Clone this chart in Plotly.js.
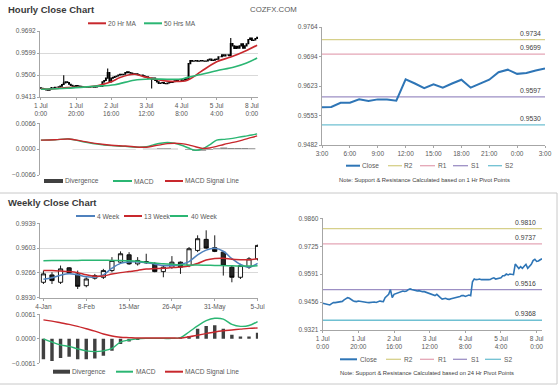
<!DOCTYPE html>
<html><head><meta charset="utf-8">
<script src="https://cdn.plot.ly/plotly-3.0.1.min.js"></script>
<style>html,body{margin:0;padding:0;background:#fff}#chart{width:560px;height:386px}</style>
</head><body><div id="chart"></div>
<script>
// ================= DATA =================
// Hourly (1 Jul 0:00 .. 8 Jul 3:00, weekend skipped)
const hourlyTickIdx = [0, 20, 40, 60, 80, 100, 120];
const hourlyTickLabels = ['1 Jul<br>0:00','1 Jul<br>20:00','2 Jul<br>16:00','3 Jul<br>12:00','4 Jul<br>8:00','5 Jul<br>4:00','8 Jul<br>0:00'];
const hourlyClose = [
 0.9450,0.9448,0.9445,0.9443,0.9442,0.9448,0.9453,0.9453,0.9454,0.9454,
 0.9456,0.9459,0.9466,0.9472,0.9477,0.9474,0.9467,0.9462,0.9459,0.9458,
 0.9461,0.9459,0.9458,0.9456,0.9454,0.9454,0.9453,0.9454,0.9456,0.9456,
 0.9454,0.9456,0.9461,0.9459,0.9458,0.9477,0.9483,0.9493,0.9516,0.9477,
 0.9493,0.9496,0.9499,0.9502,0.9506,0.9509,0.9507,0.9509,0.9516,0.9519,
 0.9516,0.9514,0.9511,0.9509,0.9511,0.9507,0.9506,0.9506,0.9503,0.9499,
 0.9498,0.9493,0.9493,0.9487,0.9493,0.9483,0.9477,0.9470,0.9472,0.9474,
 0.9470,0.9469,0.9472,0.9474,0.9475,0.9478,0.9482,0.9483,0.9487,0.9487,
 0.9483,0.9485,0.9490,0.9487,0.9554,0.9567,0.9564,0.9565,0.9567,0.9564,
 0.9565,0.9567,0.9565,0.9564,0.9565,0.9570,0.9573,0.9567,0.9569,
 0.9572,0.9573,0.9583,0.9583,0.9591,0.9587,0.9591,0.9591,0.9588,0.9639,
 0.9629,0.9618,0.9627,0.9619,0.9629,0.9638,0.9619,0.9629,0.9638,0.9656,
 0.9662,0.9652,0.9654,0.9660,0.9665];
const hourlyFirstOpen = 0.9452;
const hourlySpikeIdx  = [13, 38, 63, 108];
const hourlySpikeHigh = [0.9505, 0.9533, null, 0.9662];
const hourlySpikeLow  = [null, null, 0.9449, 0.9588];
const hourlyYTicks = [0.9413, 0.9506, 0.9599, 0.9692];

const ma20Idx = [0,6,15,25,32,40,45,53,59,66,72,78,82,85,91,100,108,117,123];
const ma20Val = [0.9448,0.9447,0.9453,0.9455,0.9460,0.9477,0.9495,0.9509,0.9498,0.9487,0.9480,0.9479,0.9481,0.9490,0.9520,0.9562,0.9582,0.9610,0.9632];
const ma50Idx = [0,15,30,42,53,62,72,80,83,91,100,110,117,123];
const ma50Val = [0.9446,0.9450,0.9458,0.9465,0.9484,0.9489,0.9488,0.9489,0.9495,0.9508,0.9524,0.9540,0.9557,0.9578];

const hourlyMacdIdx = [0,8,16,24,32,40,48,56,60,64,68,72,76,80,84,88,92,96,100,104,108,112,116,120,123];
const hourlyMacd   = [0.0023,0.0024,0.0026,0.0019,0.0013,0.0009,0.0007,0.0005,0.0006,0.0011,0.0015,0.0017,0.0015,0.0010,0.0003,-0.0003,0.0001,0.0011,0.0023,0.0025,0.0027,0.0030,0.0033,0.0036,0.0039];
const hourlySignal = [0.0023,0.0024,0.0026,0.0020,0.0014,0.0010,0.0008,0.0005,0.0005,0.0008,0.0011,0.0014,0.0015,0.0014,0.0011,0.0006,0.0002,0.0003,0.0007,0.0012,0.0016,0.0020,0.0025,0.0030,0.0034];
const hourlyDivStep = 4;
const hourlyDivergence = [0.0000,0.0000,0.0000,0.0000,0.0000,-0.0001,-0.0001,-0.0001,-0.0001,-0.0001,-0.0001,-0.0001,-0.0001,-0.0001,0.0000,0.0001,0.0001,0.0002,0.0002,0.0001,0.0000,-0.0002,-0.0004,-0.0004,-0.0002,0.0002,0.0004,0.0003,0.0003,0.0003,0.0002];
const hourlyMacdTicks = [-0.0066, 0, 0.0066];

// Last 24 hours (top right)
const lastDayStart = 99;
const lastDayTickLabels = ['3:00','6:00','9:00','12:00','15:00','18:00','21:00','0:00','3:00'];
const lastDayYTicks = [0.9482, 0.9553, 0.9623, 0.9694, 0.9764];
const pivotNames = ['R2','R1','S1','S2'];
const hourPivots = [0.9734, 0.9699, 0.9597, 0.9530];
const dayPivots  = [0.9810, 0.9737, 0.9516, 0.9368];
const dayYTicks  = [0.9321, 0.9456, 0.9591, 0.9725, 0.9860];

// Weekly
const weekTickLabels = ['4-Jan','8-Feb','15-Mar','26-Apr','31-May','5-Jul'];
const weeklyOpen  = [0.9139,0.9239,0.9139,0.9335,0.9253,0.9093,0.9194,0.9207,0.9298,0.9412,0.9512,0.9389,0.9403,0.9389,0.9284,0.9344,0.9412,0.9366,0.9571,0.9721,0.9608,0.9548,0.9344,0.9207,0.9344,0.9457];
const weeklyHigh  = [0.9298,0.9275,0.9366,0.9344,0.9298,0.9207,0.9253,0.9321,0.9480,0.9558,0.9548,0.9480,0.9526,0.9412,0.9366,0.9494,0.9421,0.9617,0.9776,0.9844,0.9776,0.9558,0.9366,0.9389,0.9480,0.9649];
const weeklyLow   = [0.9116,0.9116,0.9116,0.9253,0.9048,0.9071,0.9175,0.9184,0.9275,0.9389,0.9376,0.9366,0.9389,0.9275,0.9207,0.9321,0.9253,0.9344,0.9548,0.9594,0.9548,0.9230,0.9139,0.9184,0.9321,0.9435];
const weeklyClose = [0.9253,0.9162,0.9321,0.9266,0.9084,0.9184,0.9230,0.9298,0.9435,0.9526,0.9389,0.9435,0.9421,0.9284,0.9344,0.9412,0.9344,0.9594,0.9730,0.9603,0.9558,0.9366,0.9207,0.9366,0.9457,0.9639];
const ma4w  = [0.9180,0.9200,0.9235,0.9255,0.9240,0.9215,0.9210,0.9240,0.9330,0.9395,0.9415,0.9415,0.9405,0.9385,0.9365,0.9365,0.9380,0.9420,0.9510,0.9575,0.9600,0.9560,0.9460,0.9380,0.9345,0.9395];
const ma13w = [0.9300,0.9298,0.9292,0.9285,0.9270,0.9240,0.9222,0.9225,0.9250,0.9270,0.9285,0.9300,0.9318,0.9325,0.9330,0.9338,0.9345,0.9360,0.9395,0.9440,0.9460,0.9465,0.9450,0.9445,0.9445,0.9458];
const ma40w = [0.9432,0.9433,0.9434,0.9435,0.9436,0.9437,0.9437,0.9437,0.9436,0.9434,0.9430,0.9423,0.9412,0.9400,0.9390,0.9382,0.9376,0.9372,0.9372,0.9370,0.9368,0.9366,0.9362,0.9360,0.9360,0.9362];
const weeklyYTicks = [0.8930, 0.9266, 0.9603, 0.9939];
const weeklyDivergence = [-0.0051,-0.0055,-0.0048,-0.0045,-0.0051,-0.0051,-0.0049,-0.0042,-0.0030,-0.0013,-0.0007,-0.0003,0.0001,0.0002,0.0002,0.0002,0.0003,0.0007,0.0025,0.0032,0.0034,0.0025,0.0010,0.0006,0.0006,0.0015];
const weeklyMacd   = [0.0000,-0.0008,-0.0015,-0.0019,-0.0025,-0.0030,-0.0032,-0.0030,-0.0024,-0.0008,-0.0003,0.0000,0.0001,0.0001,0.0001,0.0001,0.0003,0.0017,0.0032,0.0045,0.0051,0.0049,0.0036,0.0031,0.0033,0.0043];
const weeklySignal = [0.0047,0.0044,0.0040,0.0036,0.0031,0.0025,0.0019,0.0012,0.0007,0.0004,0.0003,0.0002,0.0002,0.0002,0.0002,0.0002,0.0002,0.0005,0.0009,0.0013,0.0017,0.0020,0.0022,0.0024,0.0026,0.0027];
const weeklyMacdTicks = [-0.0061, 0, 0.0061];

// ================= BUILD =================
const FONT = 'Liberation Sans, Arial, sans-serif';
const C = {red:'#c8282d', green:'#2bb673', blue:'#4f81bd', close:'#2e75b6', div:'#595959',
           R2:'#d6d08a', R1:'#e4a6b6', S1:'#9c8fc4', S2:'#6fc0d2', axis:'#a6a6a6', grid:'#d9d9d9', text:'#595959'};
const W = 560, H = 386;
const px = x => x / W, py = y => 1 - y / H;

const hIdx = hourlyClose.map((_, i) => i);
const hOpen = [hourlyFirstOpen].concat(hourlyClose.slice(0, -1));
const hHigh = hourlyClose.map((c, i) => Math.max(c, hOpen[i]));
const hLow  = hourlyClose.map((c, i) => Math.min(c, hOpen[i]));
hourlySpikeIdx.forEach((k, j) => {
  if (hourlySpikeHigh[j] != null) hHigh[k] = Math.max(hHigh[k], hourlySpikeHigh[j]);
  if (hourlySpikeLow[j] != null) hLow[k] = Math.min(hLow[k], hourlySpikeLow[j]);
});
const lastDayClose = hourlyClose.slice(lastDayStart);
const ldIdx = lastDayClose.map((_, i) => i);
const ldTickVals = lastDayTickLabels.map((_, i) => i * 3);
const wIdx = weeklyClose.map((_, i) => i);
const wTickVals = weekTickLabels.map((_, i) => i * 5);
const hDivIdx = hourlyDivergence.map((_, i) => i * hourlyDivStep);

function candleStyle(lw) {
  return {
    increasing: {line: {color: '#000', width: lw}, fillcolor: '#ffffff'},
    decreasing: {line: {color: '#000', width: lw}, fillcolor: '#262626'},
    whiskerwidth: 0, showlegend: false, hoverinfo: 'skip'
  };
}

const traces = [
  Object.assign({type:'candlestick', name:'Hourly Close', x:hIdx, open:hOpen, high:hHigh, low:hLow, close:hourlyClose, xaxis:'x', yaxis:'y'}, candleStyle(1.1)),
  {type:'scatter', mode:'lines', name:'20 Hr MA', x:ma20Idx, y:ma20Val, xaxis:'x', yaxis:'y', line:{color:C.red, width:1.6, shape:'spline'}},
  {type:'scatter', mode:'lines', name:'50 Hrs MA', x:ma50Idx, y:ma50Val, xaxis:'x', yaxis:'y', line:{color:C.green, width:1.6, shape:'spline'}},

  {type:'bar', name:'Divergence', x:hDivIdx, y:hourlyDivergence, width:hourlyDivStep, xaxis:'x2', yaxis:'y2', marker:{color:'#8c8c8c', line:{width:0}}},
  {type:'scatter', mode:'lines', name:'MACD', x:hourlyMacdIdx, y:hourlyMacd, xaxis:'x2', yaxis:'y2', line:{color:C.green, width:1.4, shape:'spline'}},
  {type:'scatter', mode:'lines', name:'MACD Signal Line', x:hourlyMacdIdx, y:hourlySignal, xaxis:'x2', yaxis:'y2', line:{color:C.red, width:1.4, shape:'spline'}},
];
pivotNames.forEach((n, i) => traces.push({type:'scatter', mode:'lines', name:n, x:[ldIdx[0], ldIdx[ldIdx.length-1]], y:[hourPivots[i], hourPivots[i]], xaxis:'x3', yaxis:'y3', line:{color:C[n], width:1.3}}));
traces.push({type:'scatter', mode:'lines', name:'Close', x:ldIdx, y:lastDayClose, xaxis:'x3', yaxis:'y3', line:{color:C.close, width:2}});

traces.push(Object.assign({type:'candlestick', name:'Weekly Close', x:wIdx, open:weeklyOpen, high:weeklyHigh, low:weeklyLow, close:weeklyClose, xaxis:'x4', yaxis:'y4'}, candleStyle(0.9)));
traces.push({type:'scatter', mode:'lines', name:'4 Week', x:wIdx, y:ma4w, xaxis:'x4', yaxis:'y4', line:{color:C.blue, width:1.5, shape:'spline'}});
traces.push({type:'scatter', mode:'lines', name:'13 Week', x:wIdx, y:ma13w, xaxis:'x4', yaxis:'y4', line:{color:C.red, width:1.5, shape:'spline'}});
traces.push({type:'scatter', mode:'lines', name:'40 Week', x:wIdx, y:ma40w, xaxis:'x4', yaxis:'y4', line:{color:C.green, width:1.5, shape:'spline'}});

traces.push({type:'bar', name:'Divergence', x:wIdx, y:weeklyDivergence, width:0.4, xaxis:'x5', yaxis:'y5', marker:{color:'#404040', line:{width:0}}});
traces.push({type:'scatter', mode:'lines', name:'MACD', x:wIdx, y:weeklyMacd, xaxis:'x5', yaxis:'y5', line:{color:C.green, width:1.4, shape:'spline'}});
traces.push({type:'scatter', mode:'lines', name:'MACD Signal Line', x:wIdx, y:weeklySignal, xaxis:'x5', yaxis:'y5', line:{color:C.red, width:1.4, shape:'spline'}});

pivotNames.forEach((n, i) => traces.push({type:'scatter', mode:'lines', name:n, x:[hIdx[0], hIdx[hIdx.length-1]], y:[dayPivots[i], dayPivots[i]], xaxis:'x6', yaxis:'y6', line:{color:C[n], width:1.3}}));
traces.push({type:'scatter', mode:'lines', name:'Close', x:hIdx, y:hourlyClose, xaxis:'x6', yaxis:'y6', line:{color:C.close, width:1.6}});
traces.forEach(t => { t.showlegend = false; t.hoverinfo = 'skip'; });

const tickfont = {family: FONT, size: 6.5, color: C.text};
function ax(extra) {
  return Object.assign({showgrid:false, zeroline:false, showline:true, linecolor:C.axis, linewidth:1,
    ticks:'outside', ticklen:2, tickcolor:C.axis, tickfont:tickfont, fixedrange:true}, extra);
}
const hidden = {showline:false, showticklabels:false, ticks:''};

const layout = {
  width: W, height: H, margin: {l:0, r:0, t:0, b:0},
  paper_bgcolor:'#ffffff', plot_bgcolor:'#ffffff', showlegend:false,
  font: {family: FONT, size: 7, color: C.text},
  xaxis:  ax({domain:[px(40), px(258)], anchor:'y', range:[-0.5, 123.5], tickvals:hourlyTickIdx, ticktext:hourlyTickLabels, rangeslider:{visible:false}}),
  yaxis:  ax({domain:[py(97), py(31)], anchor:'x', range:[hourlyYTicks[0], hourlyYTicks[hourlyYTicks.length-1]], tickvals:hourlyYTicks, tickformat:'.4f', showgrid:true, gridcolor:C.grid}),
  xaxis2: ax(Object.assign({domain:[px(40), px(258)], anchor:'y2', range:[-0.5, 123.5]}, hidden)),
  yaxis2: ax({domain:[py(175), py(123.3)], anchor:'x2', range:[hourlyMacdTicks[0], hourlyMacdTicks[2]], tickvals:hourlyMacdTicks, tickformat:'.4f'}),
  xaxis3: ax({domain:[px(322), px(545)], anchor:'y3', range:[0, lastDayClose.length-1], tickvals:ldTickVals, ticktext:lastDayTickLabels}),
  yaxis3: ax({domain:[py(145), py(27)], anchor:'x3', range:[lastDayYTicks[0], lastDayYTicks[lastDayYTicks.length-1]], tickvals:lastDayYTicks, tickformat:'.4f'}),
  xaxis4: ax({domain:[px(40), px(258)], anchor:'y4', range:[-0.4, 25.05], tickvals:wTickVals, ticktext:weekTickLabels, rangeslider:{visible:false}}),
  yaxis4: ax({domain:[py(297.7), py(223.3)], anchor:'x4', range:[weeklyYTicks[0], weeklyYTicks[weeklyYTicks.length-1]], tickvals:weeklyYTicks, tickformat:'.4f', showgrid:true, gridcolor:C.grid}),
  xaxis5: ax(Object.assign({domain:[px(40), px(258)], anchor:'y5', range:[-0.4, 25.05]}, hidden)),
  yaxis5: ax({domain:[py(363.3), py(314.3)], anchor:'x5', range:[weeklyMacdTicks[0], weeklyMacdTicks[2]], tickvals:weeklyMacdTicks, tickformat:'.4f'}),
  xaxis6: ax({domain:[px(322.7), px(542)], anchor:'y6', range:[0, hIdx.length-1], tickvals:hourlyTickIdx, ticktext:hourlyTickLabels}),
  yaxis6: ax({domain:[py(330), py(218.3)], anchor:'x6', range:[dayYTicks[0], dayYTicks[dayYTicks.length-1]], tickvals:dayYTicks, tickformat:'.4f'}),
  shapes: [], annotations: []
};

const S = layout.shapes, A = layout.annotations;
function txt(x, y, text, size, color, anchor, extra) {
  A.push(Object.assign({xref:'paper', yref:'paper', x:px(x), y:py(y), text:text, showarrow:false,
    xanchor:anchor || 'left', yanchor:'middle', font:{family:FONT, size:size, color:color || C.text}, borderpad:0}, extra || {}));
}
function legLine(x0, x1, y, color, label, tx, w) {
  S.push({type:'line', xref:'paper', yref:'paper', x0:px(x0), x1:px(x1), y0:py(y), y1:py(y), line:{color:color, width:w || 2}});
  txt(tx, y, label, 6.6);
}
function legBar(x0, x1, y, color, label, tx) {
  S.push({type:'rect', xref:'paper', yref:'paper', x0:px(x0), x1:px(x1), y0:py(y + 2), y1:py(y - 2), fillcolor:color, line:{width:0}});
  txt(tx, y, label, 6.6);
}

// titles
txt(7, 10, '<b>Hourly Close Chart</b>', 9.5, '#3a3a3a');
txt(249, 10, 'COZFX.COM', 7.8, '#595959');
txt(7, 202.5, '<b>Weekly Close Chart</b>', 9.5, '#3a3a3a');

// legends
legLine(88, 106, 23.3, C.red, '20 Hr MA', 107);
legLine(144, 162, 23.3, C.green, '50 Hrs MA', 163);
legBar(44, 63, 181, '#404040', 'Divergence', 64);
legLine(113, 132, 181, C.green, 'MACD', 133);
legLine(165, 183, 181, C.red, 'MACD Signal Line', 184);

legLine(76, 95, 216, C.blue, '4 Week', 96);
legLine(124, 142, 216, C.red, '13 Week', 143);
legLine(170, 188, 216, C.green, '40 Week', 190);
legBar(53, 70, 371.7, '#404040', 'Divergence', 71);
legLine(116, 133, 371.7, C.green, 'MACD', 135);
legLine(165, 183, 371.7, C.red, 'MACD Signal Line', 184);

// right legends
const trLeg = [[346,360,361],[388,402,403],[420,435,437],[453,468,470],[488,502,504]];
const brLeg = [[340,357,359],[386,401,403],[420,434,437],[453,467,470],[485,501,503]];
const legNames = ['Close'].concat(pivotNames);
legNames.forEach((n, i) => {
  const col = n === 'Close' ? C.close : C[n];
  const w = n === 'Close' ? 2 : 1.3;
  legLine(trLeg[i][0], trLeg[i][1], 165.7, col, n, trLeg[i][2], w);
  legLine(brLeg[i][0], brLeg[i][1], 359.3, col, n, brLeg[i][2], w);
});
txt(424.5, 180, 'Note: Support & Resistance Calculated based on 1 Hr Pivot Points', 5.8, '#404040', 'center');
txt(426.5, 372.7, 'Note: Support & Resistance Calculated based on 24 Hr Pivot Points', 5.8, '#404040', 'center');

// pivot value labels
hourPivots.forEach(v => A.push({xref:'x3 domain', yref:'y3', x:0.99, y:v, text:v.toFixed(4), showarrow:false,
  xanchor:'right', yanchor:'bottom', yshift:1, font:{family:FONT, size:6.8, color:'#404040'}}));
dayPivots.forEach(v => A.push({xref:'x6 domain', yref:'y6', x:0.98, y:v, text:v.toFixed(4), showarrow:false,
  xanchor:'right', yanchor:'bottom', yshift:1, font:{family:FONT, size:6.8, color:'#404040'}}));

// frame / separators
S.push({type:'line', xref:'paper', yref:'paper', x0:0, x1:px(557), y0:py(193), y1:py(193), line:{color:'#c8c8c8', width:1}});
S.push({type:'line', xref:'paper', yref:'paper', x0:0, x1:px(557), y0:py(384), y1:py(384), line:{color:'#c8c8c8', width:1}});
S.push({type:'line', xref:'paper', yref:'paper', x0:px(557), x1:px(557), y0:py(193), y1:py(384), line:{color:'#c8c8c8', width:1}});

Plotly.newPlot('chart', traces, layout, {staticPlot:true, displayModeBar:false});
</script>
</body></html>
